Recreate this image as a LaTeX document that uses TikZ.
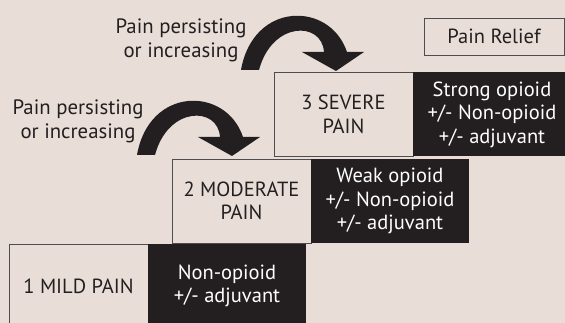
\documentclass[tikz,border=0pt]{standalone}
\usepackage{fontspec}
\setmainfont{PT Sans}
\usepackage{tikz}
\usetikzlibrary{positioning}
\definecolor{bgtan}{HTML}{E9DED7}
\definecolor{inkdark}{HTML}{231F20}
\tikzset{
  painstep/.style={draw=inkdark!80, line width=0.9pt, fill=bgtan, minimum width=139pt,
    minimum height=84pt, inner sep=0pt, outer sep=0pt, align=center, text=inkdark,
    font=\fontsize{20.5}{23.5}\selectfont},
  drugstep/.style={fill=inkdark, minimum width=158pt, minimum height=84pt, inner sep=0pt,
    outer sep=0pt, align=center, text=white, font=\fontsize{20.5}{23.5}\selectfont},
  reasontext/.style={align=center, text=inkdark, inner sep=0pt,
    font=\fontsize{20.8}{24}\selectfont},
}
\newcommand{\painstep}[4]{\node[painstep] (#1) at ( #2 , #3 ) {#4};}
\newcommand{\drugstep}[3]{\node[drugstep, right=0pt of #2] (#1) {#3};}
\newcommand{\worsearrow}[3]{
  \begin{scope}[shift={( #2 , #3 )}]
    \coordinate (#1foot) at (137,155);
    \coordinate (#1tip) at (232,156);
    \fill[inkdark] (#1foot) .. controls (149,86) and (226,86) .. (243,137) -- (260,137)
      -- (#1tip) -- (198,137) -- (220,137) .. controls (218,106) and (168,106) .. (155,155) -- cycle;
  \end{scope}}

\begin{document}
\begin{tikzpicture}[x=1pt, y=-1pt]
        \fill[bgtan] (0,0) rectangle (565,323);
        \useasboundingbox (0,0) rectangle (565,323);
        \clip (0,0) rectangle (565,323);

        % step 1
        \painstep{mild}{78.5}{286}{1 MILD PAIN}
        \drugstep{nonop}{mild}{Non-opioid\\+/- adjuvant}
        % step 2
        \painstep{moderate}{241.5}{201}{2 MODERATE\\PAIN}
        \drugstep{weak}{moderate}{Weak opioid\\+/- Non-opioid\\+/- adjuvant}
        % step 3
        \painstep{severe}{343.5}{114.5}{3 SEVERE\\PAIN}
        \drugstep{strong}{severe}{Strong opioid\\+/- Non-opioid\\+/- adjuvant}

        % relief
        \node[painstep, minimum width=140pt, minimum height=37pt] (relief) at (494,36.5) {Pain Relief};

        % arrows
        \worsearrow{lower}{0}{0}
        \worsearrow{upper}{104}{-85}
        \node[reasontext] (lowerwhy) at (78,121) {Pain persisting\\or increasing};
        \node[reasontext] (upperwhy) at (181,40) {Pain persisting\\or increasing};
    \end{tikzpicture}
\end{document}
